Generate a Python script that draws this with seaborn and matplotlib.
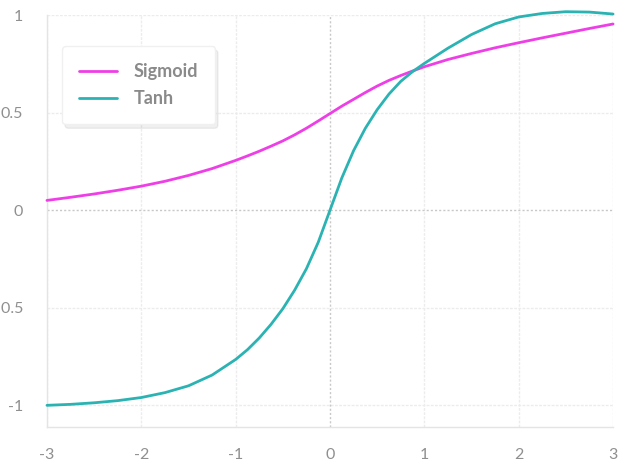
import pandas as pd
import numpy as np

import matplotlib
matplotlib.use("Agg")
import matplotlib.pyplot as plt
import seaborn as sns


x_values = [
    -3, -2.75, -2.5, -2.25, -2, -1.75, -1.5, -1.25,
    -1, -0.875, -0.75, -0.625, -0.5, -0.375, -0.25, -0.125,
    0, 0.125, 0.25, 0.375, 0.5, 0.625, 0.75, 0.875,
    1, 1.25, 1.5, 1.75, 2, 2.25, 2.5, 2.75, 3
]

sigmoid_values = [
    0.05, 0.066, 0.083, 0.102, 0.123, 0.148, 0.178, 0.213,
    0.255, 0.278, 0.302, 0.328, 0.355, 0.386, 0.42, 0.457,
    0.495, 0.533, 0.568, 0.603, 0.636, 0.665, 0.69, 0.713,
    0.735, 0.772, 0.803, 0.832, 0.858, 0.883, 0.907, 0.931, 0.954
]

tanh_values = [
    -1.0, -0.995, -0.987, -0.976, -0.96, -0.935, -0.9, -0.845,
    -0.765, -0.715, -0.655, -0.585, -0.505, -0.41, -0.3, -0.165,
    0.0, 0.165, 0.305, 0.42, 0.515, 0.595, 0.66, 0.71,
    0.752, 0.83, 0.9, 0.955, 0.99, 1.008, 1.017, 1.015, 1.005
]

series_names = ["Sigmoid", "Tanh"]
series_colors = ["#ee3fe6", "#2bb3b3"]

x_ticks = [-3, -2, -1, 0, 1, 2, 3]
y_ticks = [-1, -0.5, 0, 0.5, 1]
y_tick_labels = ["-1", "-0.5", "0", "0.5", "1"]


df = pd.DataFrame(
    {
        "x": x_values * 2,
        "y": sigmoid_values + tanh_values,
        "Function": ["Sigmoid"] * len(x_values) + ["Tanh"] * len(x_values)
    }
)


sns.set_style("white")
plt.rcParams["font.family"] = ["Lato", "DejaVu Sans"]
plt.rcParams["axes.unicode_minus"] = False


fig = plt.figure(figsize=(6.18, 4.69), dpi=100)
ax = fig.add_axes([0.076, 0.09, 0.916, 0.878])

sns.lineplot(
    data=df,
    x="x",
    y="y",
    hue="Function",
    hue_order=series_names,
    palette=series_colors,
    linewidth=2,
    ax=ax,
    clip_on=False,
    zorder=3
)


ax.set_xlim(-3, 3)
ax.set_ylim(-1.11, 1.0)

ax.set_xticks(x_ticks)
ax.set_xticklabels([str(t) for t in x_ticks])
ax.set_yticks(y_ticks)
ax.set_yticklabels(y_tick_labels)

ax.set_xlabel("")
ax.set_ylabel("")

ax.tick_params(axis="both", length=0, labelsize=11.5, labelcolor="#8f8f8f")
ax.tick_params(axis="y", pad=17)
ax.tick_params(axis="x", pad=15)


# light grid, darker dotted zero lines
for t in x_ticks:
    if t != 0:
        ax.axvline(t, color="#ececec", linewidth=1, linestyle=(0, (2, 1)), zorder=0)

for t in y_ticks:
    if t != 0:
        ax.axhline(t, color="#ececec", linewidth=1, linestyle=(0, (2, 1)), zorder=0)

ax.axvline(0, color="#c8c8c8", linewidth=1, linestyle=(0, (1.5, 1.5)), zorder=1)
ax.axhline(0, color="#c8c8c8", linewidth=1, linestyle=(0, (1.5, 1.5)), zorder=1)


for side in ["top", "right"]:
    ax.spines[side].set_visible(False)

for side in ["left", "bottom"]:
    ax.spines[side].set_color("#e4e4e4")
    ax.spines[side].set_linewidth(1)


legend = ax.legend(
    loc="upper left",
    bbox_to_anchor=(0.027, 0.925),
    frameon=True,
    fontsize=13,
    handlelength=2.1,
    handletextpad=0.9,
    borderpad=0.95,
    labelspacing=0.55,
    borderaxespad=0,
    shadow={"color": "#000000", "alpha": 0.06, "ox": 2, "oy": -3}
)

legend.get_frame().set_facecolor("white")
legend.get_frame().set_edgecolor("#f0f0f0")
legend.get_frame().set_alpha(1)

for text in legend.get_texts():
    text.set_color("#8a8a8a")
    text.set_fontweight("bold")


plt.savefig("out.png", dpi=100)
